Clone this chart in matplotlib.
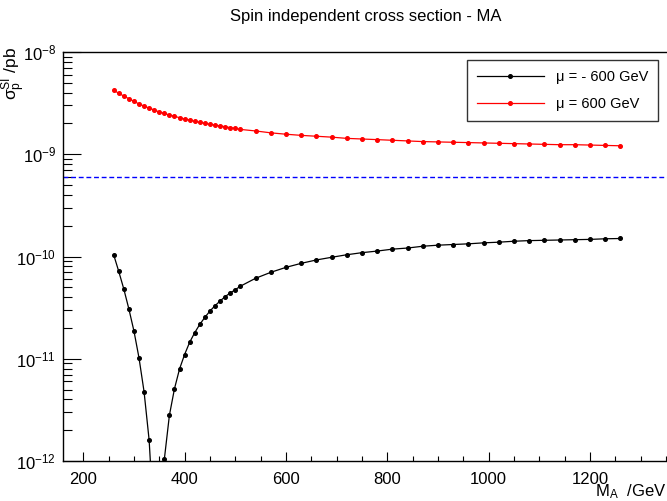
import matplotlib
matplotlib.use('Agg')
import matplotlib.pyplot as plt
from matplotlib.ticker import MultipleLocator, LogLocator, NullFormatter, FixedLocator
import numpy as np

plt.rcParams['font.family'] = ['Liberation Sans', 'DejaVu Sans']
plt.rcParams['mathtext.default'] = 'regular'

# M_A grid (GeV)
m_a = [260, 270, 280, 290, 300, 310, 320, 330, 340, 350, 360, 370, 380, 390,
       400, 410, 420, 430, 440, 450, 460, 470, 480, 490, 500, 510,
       540, 570, 600, 630, 660, 690, 720, 750, 780, 810, 840, 870, 900,
       930, 960, 990, 1020, 1050, 1080, 1110, 1140, 1170, 1200, 1230, 1260]

# mu = -600 GeV
sigma_neg = [1.04e-10, 7.16e-11, 4.81e-11, 3.07e-11, 1.87e-11, 1.02e-11, 4.76e-12,
             1.60e-12, 2.2e-13, 1.5e-13, 1.04e-12, 2.80e-12, 5.09e-12, 7.94e-12,
             1.10e-11, 1.45e-11, 1.80e-11, 2.17e-11, 2.54e-11, 2.93e-11, 3.30e-11,
             3.67e-11, 4.05e-11, 4.40e-11, 4.73e-11, 5.12e-11,
             6.12e-11, 7.00e-11, 7.83e-11, 8.57e-11, 9.25e-11, 9.82e-11, 1.04e-10,
             1.09e-10, 1.13e-10, 1.18e-10, 1.21e-10, 1.26e-10, 1.29e-10,
             1.31e-10, 1.33e-10, 1.36e-10, 1.38e-10, 1.41e-10, 1.43e-10, 1.44e-10,
             1.45e-10, 1.46e-10, 1.47e-10, 1.49e-10, 1.50e-10]

# mu = 600 GeV
sigma_pos = [4.25e-9, 3.94e-9, 3.71e-9, 3.49e-9, 3.30e-9, 3.10e-9, 2.96e-9,
             2.83e-9, 2.71e-9, 2.59e-9, 2.51e-9, 2.42e-9, 2.35e-9, 2.28e-9,
             2.21e-9, 2.16e-9, 2.10e-9, 2.05e-9, 2.01e-9, 1.96e-9, 1.93e-9,
             1.89e-9, 1.86e-9, 1.82e-9, 1.79e-9, 1.75e-9,
             1.69e-9, 1.62e-9, 1.57e-9, 1.53e-9, 1.50e-9, 1.47e-9, 1.43e-9,
             1.41e-9, 1.39e-9, 1.37e-9, 1.35e-9, 1.33e-9, 1.32e-9,
             1.31e-9, 1.30e-9, 1.29e-9, 1.28e-9, 1.27e-9, 1.26e-9, 1.25e-9,
             1.24e-9, 1.24e-9, 1.23e-9, 1.22e-9, 1.21e-9]

y_ticks = [1e-12, 1e-11, 1e-10, 1e-9, 1e-8]
x_ticks = [200, 400, 600, 800, 1000, 1200]
limit = 6.0e-10

W, H = 667, 501
fig = plt.figure(figsize=(W / 100, H / 100), dpi=100)
# frame runs slightly past the right edge of the picture
ax = fig.add_axes([63 / W, 40 / H, 608 / W, 409 / H])

ax.plot(m_a, sigma_neg, color='black', lw=0.9, marker='o', ms=2.6,
        label=u'\u03bc = - 600 GeV')
ax.plot(m_a, sigma_pos, color='red', lw=0.9, marker='o', ms=2.6,
        label=u'\u03bc = 600 GeV')
ax.axhline(limit, color='blue', lw=1.0, dashes=(3.5, 2.0))

ax.set_yscale('log')
ax.set_xlim(160, 1360)
ax.set_ylim(1e-12, 1e-8)

ax.xaxis.set_major_locator(FixedLocator(x_ticks))
ax.xaxis.set_minor_locator(MultipleLocator(50))
ax.yaxis.set_major_locator(FixedLocator(y_ticks))
ax.yaxis.set_minor_locator(LogLocator(base=10, subs=np.arange(2, 10), numticks=20))
ax.yaxis.set_minor_formatter(NullFormatter())

ax.tick_params(axis='both', which='both', direction='in', top=False, right=False,
               labelsize=12, width=0.8)
ax.tick_params(axis='y', which='major', length=13, pad=5)
ax.tick_params(axis='y', which='minor', length=6.5)
ax.tick_params(axis='x', which='major', length=6.7, pad=8)
ax.tick_params(axis='x', which='minor', length=3.3)
for s in ax.spines.values():
    s.set_linewidth(1.0)

fig.text(366 / W, 1 - 17 / H, 'Spin independent cross section - MA',
         ha='center', va='center', fontsize=12)
fig.text(14 / W, 1 - 47 / H, u'\u03c3$_{p}^{SI}$ /pb', rotation=90,
         ha='center', va='top', fontsize=12.5)
fig.text(666 / W, 1 - 492 / H, 'M$_{A}$  /GeV', ha='right', va='center',
         fontsize=12)

leg = ax.legend(loc='upper left', bbox_to_anchor=(466.7 / W, 1 - 60 / H),
                bbox_transform=fig.transFigure, fontsize=10.5, frameon=True,
                fancybox=False, edgecolor='black', handlelength=4.6,
                handletextpad=0.8, labelspacing=0.85, borderpad=0.7,
                borderaxespad=0, markerscale=1.0)
leg.get_frame().set_linewidth(1.0)

plt.savefig('out.png', dpi=100)
